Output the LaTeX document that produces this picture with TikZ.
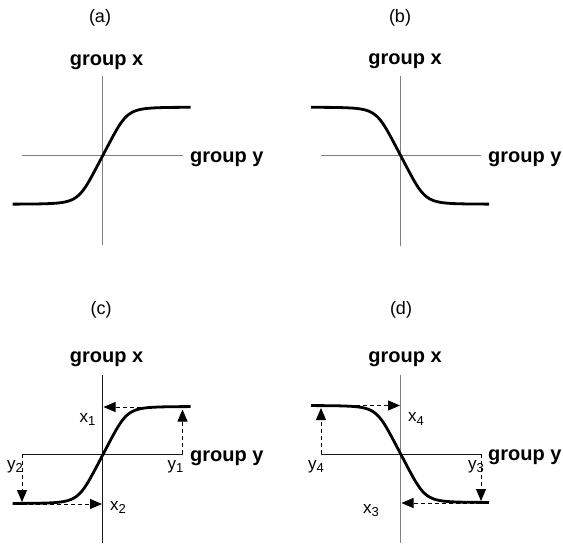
\documentclass[tikz,border=0pt]{standalone}
\usepackage{fontspec}
\setmainfont{Liberation Sans}
\usetikzlibrary{arrows.meta}
\newcommand\lsub[1]{\raisebox{-3.5pt}{\fontsize{13}{13}\selectfont #1}}
\begin{document}
\begin{tikzpicture}[x=1pt,y=-1pt,
  declare function={sg(\t)=48.5*(\t/25.5)/pow(1+pow(\t/25.5,4),0.25);},
  axisg/.style={draw=black!50, line width=0.9pt},
  axisk/.style={draw=black!90, line width=0.9pt},
  sig/.style={line width=2.8pt, line join=round},
  darrow/.style={line width=0.9pt, dash pattern=on 4pt off 3pt, -{Triangle[length=12pt,width=10pt]}},
  grp/.style={font=\fontsize{20}{20}\selectfont\bfseries, inner sep=0pt},
  lbl/.style={font=\fontsize{17}{17}\selectfont, inner sep=0pt, anchor=base west},
  ttl/.style={font=\fontsize{18}{18}\selectfont, inner sep=0pt}]
\useasboundingbox (0,0) rectangle (563,544);
% ---------- (a)
\node[ttl] (ta) at (100,17.5) {(a)};
\node[grp, anchor=base] (gxa) at (106.5,65) {group x};
\node[grp, anchor=base west] (gya) at (190,162) {group y};
\coordinate (aT) at (102.7,76); \coordinate (aB) at (102.7,245);
\coordinate (aL) at (22,155.7); \coordinate (aR) at (182.5,155.7);
\draw[axisg] (aT) -- (aB);
\draw[axisg] (aL) -- (aR);
\draw[sig] plot[domain=12.7:190.7, samples=150] (\x,{155.7-sg(\x-102.7)});
% ---------- (b)
\node[ttl] (tb) at (400,18) {(b)};
\node[grp, anchor=base] (gxb) at (405,64) {group x};
\node[grp, anchor=base west] (gyb) at (488,162) {group y};
\coordinate (bT) at (400.7,76); \coordinate (bB) at (400.7,245.5);
\coordinate (bL) at (321,155.7); \coordinate (bR) at (481,155.7);
\draw[axisg] (bT) -- (bB);
\draw[axisg] (bL) -- (bR);
\draw[sig] plot[domain=311:489, samples=150] (\x,{155.7+sg(\x-400.7)});
% ---------- (c)
\node[ttl] (tc) at (101,309.5) {(c)};
\node[grp, anchor=base] (gxc) at (106.5,362) {group x};
\node[grp, anchor=base west] (gyc) at (190,461) {group y};
\coordinate (cT) at (102.7,375); \coordinate (cB) at (102.7,543);
\coordinate (cL) at (22,454.3); \coordinate (cR) at (182.5,454.3);
\draw[axisk] (cT) -- (cB);
\draw[axisk] (cL) -- (cR);
\draw[sig] plot[domain=12.7:190.7, samples=150] (\x,{455-sg(\x-102.7)});
\coordinate (cY1) at (182.5,454.3); \coordinate (cY1t) at (182.5,409.5);
\coordinate (cX1s) at (182.5,407); \coordinate (cX1t) at (103.5,407);
\coordinate (cY2) at (22,454.3); \coordinate (cY2t) at (22,502);
\coordinate (cX2s) at (22,504); \coordinate (cX2t) at (102,504);
\draw[darrow] (cY1) -- (cY1t);
\draw[darrow] (cX1s) -- (cX1t);
\draw[darrow] (cY2) -- (cY2t);
\draw[darrow] (cX2s) -- (cX2t);
\node[lbl] (x1) at (79.5,422) {x\lsub{1}};
\node[lbl] (y1) at (167.5,469) {y\lsub{1}};
\node[lbl] (y2) at (7,469) {y\lsub{2}};
\node[lbl] (x2) at (110,510) {x\lsub{2}};
% ---------- (d)
\node[ttl] (td) at (401,310) {(d)};
\node[grp, anchor=base] (gxd) at (405,362) {group x};
\node[grp, anchor=base west] (gyd) at (488,460) {group y};
\coordinate (dT) at (400.7,375); \coordinate (dB) at (400.7,543);
\coordinate (dL) at (321,454); \coordinate (dR) at (481,454);
\draw[axisg] (dT) -- (dB);
\draw[axisk] (dL) -- (dR);
\draw[sig] plot[domain=311:489, samples=150] (\x,{454+sg(\x-400.7)});
\coordinate (dY4) at (321,454); \coordinate (dY4t) at (321,408);
\coordinate (dX4s) at (321,405.5); \coordinate (dX4t) at (400,405.5);
\coordinate (dY3) at (481,454); \coordinate (dY3t) at (481,501);
\coordinate (dX3s) at (481,503); \coordinate (dX3t) at (401.5,503);
\draw[darrow] (dY4) -- (dY4t);
\draw[darrow] (dX4s) -- (dX4t);
\draw[darrow] (dY3) -- (dY3t);
\draw[darrow] (dX3s) -- (dX3t);
\node[lbl] (x4) at (408,421.5) {x\lsub{4}};
\node[lbl] (y4) at (308,469) {y\lsub{4}};
\node[lbl] (y3) at (468,469) {y\lsub{3}};
\node[lbl] (x3) at (363,513) {x\lsub{3}};
\end{tikzpicture}
\end{document}
